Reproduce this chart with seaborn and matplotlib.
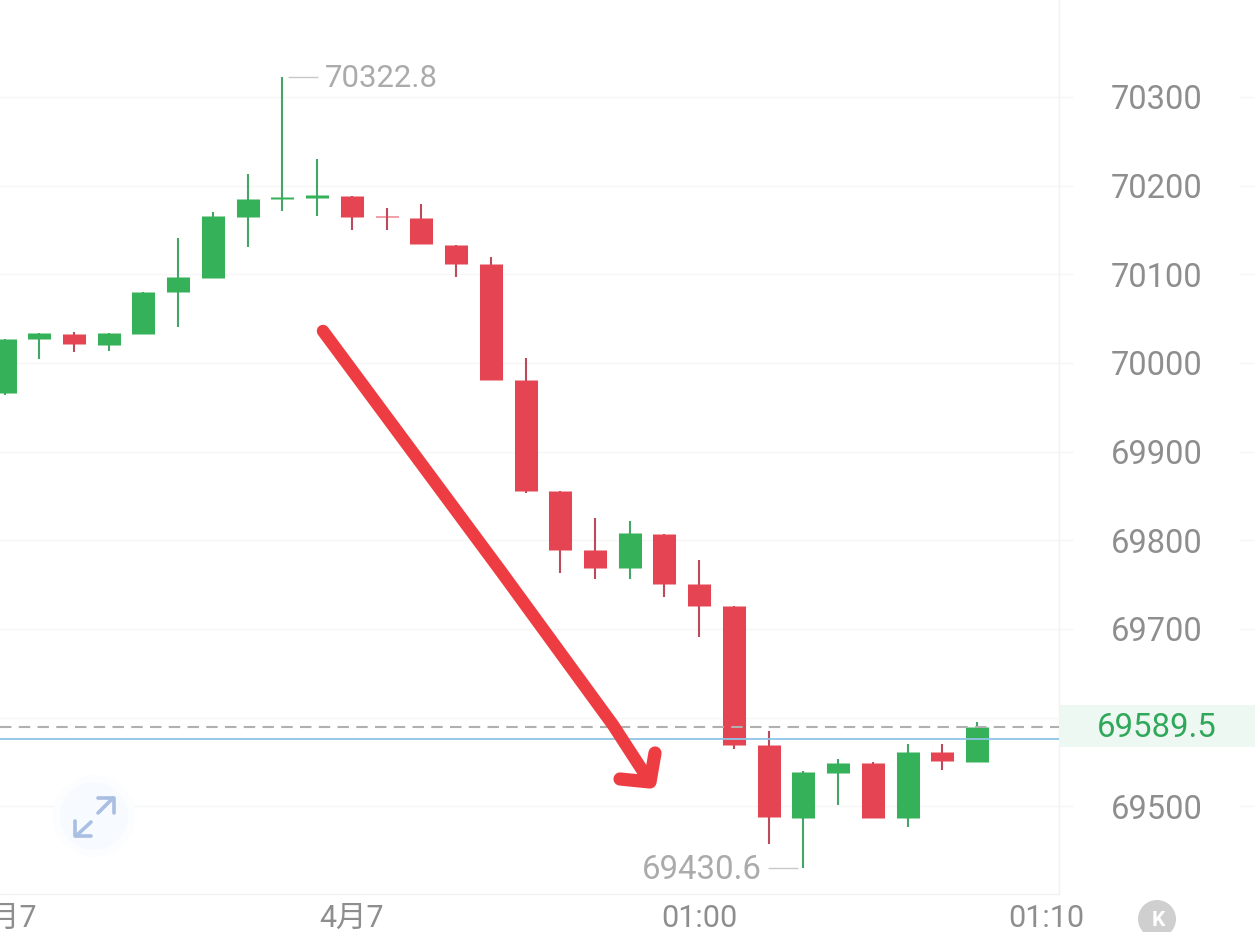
import numpy as np
import pandas as pd
import matplotlib
matplotlib.use("Agg")
import matplotlib.pyplot as plt
from matplotlib.patches import Circle, Rectangle
import seaborn as sns

# ---- data ----
opens = [69966.5, 70027.0, 70032.7, 70020.6, 70033.0, 70080.0, 70096.2, 70165.0, 70185.2, 70186.1,
         70188.7, 70166.2, 70163.2, 70133.4, 70111.3, 69980.8, 69855.2, 69788.7, 69768.7, 69807.4,
         69750.7, 69725.8, 69569.1, 69487.1, 69538.0, 69548.8, 69486.7, 69560.8, 69550.2]
closes = [70027.0, 70033.5, 70021.0, 70033.5, 70080.4, 70096.6, 70165.4, 70184.6, 70187.2, 70189.5,
          70165.0, 70164.2, 70133.8, 70111.6, 69980.8, 69855.6, 69789.4, 69769.1, 69808.2, 69751.0,
          69726.2, 69569.4, 69487.5, 69538.6, 69549.1, 69487.1, 69561.2, 69551.0, 69589.5]
highs = [70027.0, 70033.5, 70035.3, 70033.5, 70080.4, 70140.6, 70170.6, 70212.8, 70322.8, 70229.7,
         70188.7, 70174.5, 70179.3, 70133.4, 70119.9, 70005.6, 69855.2, 69825.1, 69821.7, 69807.4,
         69778.1, 69725.8, 69585.2, 69540.0, 69553.3, 69550.0, 69570.2, 69570.2, 69594.7]
lows = [69963.9, 70004.1, 70012.7, 70013.8, 70033.0, 70040.9, 70096.2, 70130.5, 70171.7, 70166.1,
        70150.3, 70150.3, 70133.8, 70097.3, 69980.8, 69853.0, 69763.4, 69756.0, 69756.0, 69735.7,
        69691.2, 69564.2, 69457.0, 69430.6, 69501.0, 69487.1, 69476.2, 69540.9, 69550.2]
price_ticks = [69500, 69600, 69700, 69800, 69900, 70000, 70100, 70200, 70300]
price_labels = ["69500", "", "69700", "69800", "69900", "70000", "70100", "70200", "70300"]
time_ticks = [0, 10, 20, 30]
time_labels = ["4月7", "4月7", "01:00", "01:10"]
last_price = 69589.5
avg_price = 69575.8
max_price = 70322.8
min_price = 69430.6

GREEN, GREEN_W, RED, RED_W = "#34B159", "#45A566", "#E54552", "#BC4A5C"
GRID = "#F6F6F6"
FONT = ["Roboto", "Noto Sans CJK SC", "DejaVu Sans"]

sns.set_theme(style="white")
plt.rcParams["font.family"] = FONT

W, H = 1255, 932
fig = plt.figure(figsize=(W / 100, H / 100), dpi=100, facecolor="white")
ax = fig.add_axes([0, (H - 894) / H, 1059 / W, 894 / H])

idx = np.arange(len(opens))
direction = ["up" if c >= o else "down" for o, c in zip(opens, closes)]
wicks = pd.DataFrame({"i": np.r_[idx, idx], "price": highs + lows, "dir": direction * 2})
bodies = pd.DataFrame({"i": np.r_[idx, idx], "price": opens + closes, "dir": direction * 2})

sns.lineplot(data=wicks, x="i", y="price", hue="dir", units="i", estimator=None, sort=False,
             palette={"up": GREEN_W, "down": RED_W}, linewidth=1.5, legend=False, ax=ax,
             solid_capstyle="butt", zorder=3)
sns.lineplot(data=bodies, x="i", y="price", hue="dir", units="i", estimator=None, sort=False,
             palette={"up": GREEN, "down": RED}, linewidth=16.6, legend=False, ax=ax,
             solid_capstyle="butt", zorder=4)

ax.set_xlim(-0.13, 30.36)
ax.set_ylim(69401, 70409.4)
ax.set_xlabel("")
ax.set_ylabel("")

# grid, extending past the axis on the right
ax.hlines(price_ticks, -0.13, 30.36, color=GRID, lw=1, zorder=1)
ax.hlines([t for t in price_ticks if t != 69600], 30.36, 30.77, color=GRID, lw=1, clip_on=False, zorder=1)
ax.hlines([t for t in price_ticks if t != 69600], 35.57, 36.0, color=GRID, lw=1, clip_on=False, zorder=1)

# price lines
ax.axhline(avg_price, color="#8FC5E8", lw=1.3, zorder=6)
ax.axhline(last_price, color="#B0B0B0", lw=1.5, ls=(0, (5.5, 3.5)), zorder=6)

# axis styling
ax.yaxis.tick_right()
ax.set_yticks(price_ticks, price_labels)
ax.set_xticks(time_ticks, time_labels)
ax.tick_params(axis="y", length=0, pad=70.5, labelsize=23.5, labelcolor="#8E8E8E")
ax.tick_params(axis="x", length=0, pad=7, labelsize=22, labelcolor="#8E8E8E")
for lab in ax.get_yticklabels():
    lab.set_ha("center")
for name, sp in ax.spines.items():
    sp.set_visible(name in ("right", "bottom"))
    sp.set_color("#F2F2F2")
    sp.set_linewidth(1)

# high / low annotations
ax.hlines(max_price, 8.17, 9.03, color="#C8C8C8", lw=1, zorder=5)
ax.text(9.23, max_price - 2.5, "70322.8", color="#ABABAB", fontsize=22.4, va="center", ha="left")
ax.hlines(min_price, 21.98, 22.85, color="#C8C8C8", lw=1, zorder=5)
ax.text(21.81, min_price - 2.5, "69430.6", color="#ABABAB", fontsize=23.8, va="center", ha="right")

# overlay in picture pixels: badge, drawn arrow, buttons
ov = fig.add_axes([0, 0, 1, 1], facecolor="none")
ov.set_xlim(0, W)
ov.set_ylim(H, 0)
ov.axis("off")

ov.add_patch(Rectangle((1060, 705), 195, 42, color="#EEF8F2", lw=0, zorder=1))
ov.text(1157, 728, f"{last_price}", color="#2FA85A", fontsize=23.8, ha="center", va="center", zorder=2)

ov.plot([323, 500, 613, 648], [331, 570, 725, 779], color="#EE3D42", lw=9,
        solid_capstyle="round", solid_joinstyle="round", zorder=5)
ov.plot([655, 650, 620], [753, 782, 779], color="#EE3D42", lw=9.5, solid_capstyle="round",
        solid_joinstyle="round", zorder=5)

ov.add_patch(Circle((94, 816), 41, color="#FBFDFF", lw=0, zorder=1))
ov.add_patch(Circle((94, 816), 34, color="#F7FAFE", lw=0, zorder=1))
ICON = "#A9BEE3"
ov.plot([98, 113], [813, 798], color=ICON, lw=2.6, zorder=2)
ov.plot([98, 114, 114], [798, 798, 813], color=ICON, lw=2.6, zorder=2)
ov.plot([91, 76], [822, 836], color=ICON, lw=2.6, zorder=2)
ov.plot([75, 75, 91], [821, 836, 836], color=ICON, lw=2.6, zorder=2)

ov.add_patch(Circle((1157, 919), 19, color="#CFCFCF", lw=0, zorder=1))
ov.text(1158, 920, "K", color="white", fontsize=15, fontweight="bold", ha="center", va="center", zorder=2)

fig.savefig("out.png", dpi=100, facecolor="white")
